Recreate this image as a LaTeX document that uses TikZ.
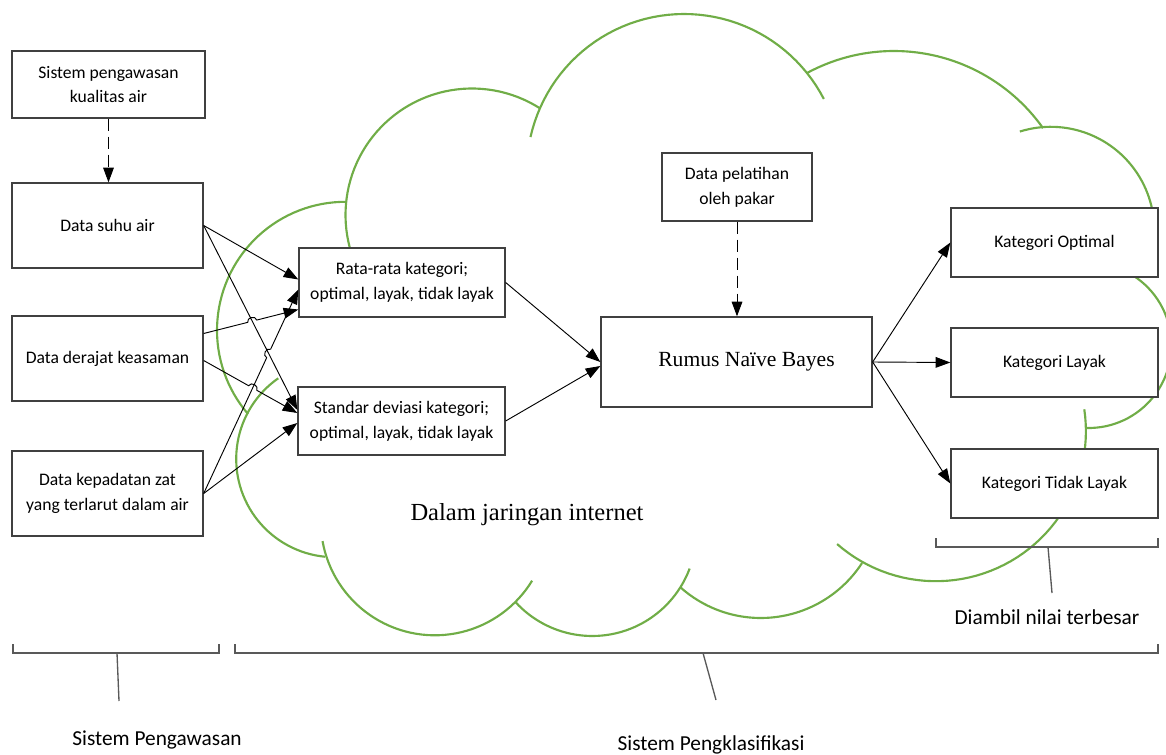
\documentclass[tikz,border=0pt]{standalone}
\usepackage{fontspec}
\setmainfont{Carlito}
\newfontfamily\serifface{Liberation Serif}
\usetikzlibrary{arrows.meta,calc}
\definecolor{cloudgreen}{RGB}{112,173,71}

\begin{document}
\begin{tikzpicture}[
    x=0.75pt,y=-0.75pt,
    box/.style={draw=black!75,line width=1pt,fill=white,inner sep=0pt,
      align=center,font=\fontsize{13.2}{18.5}\selectfont},
    sz/.style 2 args={minimum width=#1*0.75pt,minimum height=#2*0.75pt},
    conn/.style={-{Triangle[length=11pt,width=8pt]},line width=0.7pt},
    dashconn/.style={conn,dash pattern=on 9pt off 4.5pt},
    hop/.style={bend left=90,looseness=1.4},
    cloudline/.style={draw=cloudgreen,line width=1.6pt},
    bracket/.style={draw=black!65,line width=1pt},
    tag/.style={font=\fontsize{16}{19}\selectfont}
]
\useasboundingbox (0,0) rectangle (1166,755);

% cloud: one circular lobe each, centre/radius/from/to (overshoot included)
\foreach \cx/\cy/\r/\a/\b in {
    345.5/330.3/128.5/139.4/270.2,
    472/215/126.5/165/302.4,
    684.1/171.4/157.4/192.6/332.6,
    893.9/233.7/182.7/241.6/324.7,
    1050.8/230.3/103.5/252.6/370,
    1088.7/345.3/82.7/-70/91.2,
    935.9/431.2/150/-8.4/131.2,
    760.8/497.3/120.7/33/132,
    592.3/532/104/20.6/137.5,
    434.8/521.3/114/31.4/170,
    334.5/458.9/98.3/95.5/235.1}
  \draw[cloudline] plot[domain=\a:\b,samples=50,variable=\t]
    ({\cx+\r*cos(\t)},{\cy+\r*sin(\t)});

\node[font=\serifface\fontsize{18.4}{22}\selectfont] (net) at (527,515) {Dalam jaringan internet};

% monitoring side
\node[box,sz={193}{67}] (sistem) at (108.5,84.5) {Sistem pengawasan\\kualitas air};
\node[box,sz={191}{85}] (suhu) at (107.5,225.5) {Data suhu air};
\node[box,sz={191}{85}] (derajat) at (107.5,358.5) {Data derajat keasaman};
\node[box,sz={191}{85}] (padat) at (107.5,493.5) {Data kepadatan zat\\yang terlarut dalam air};

% classifier side
\node[box,sz={206}{69}] (rata) at (402,282.5) {Rata-rata kategori;\\optimal, layak, tidak layak};
\node[box,sz={207}{68}] (standar) at (401.5,421) {Standar deviasi kategori;\\optimal, layak, tidak layak};
\node[box,sz={150}{68}] (pakar) at (737,187) {Data pelatihan\\oleh pakar};
\node[box,sz={271}{90},font=\serifface\fontsize{16.2}{19}\selectfont] (bayes) at (736.5,362)
  {\hspace*{15pt}\raisebox{-2pt}{Rumus Na\"ive Bayes}};
\node[box,sz={207}{69}] (optimal) at (1054.5,242.5) {Kategori Optimal};
\node[box,sz={207}{69}] (layak) at (1054.5,362.5) {Kategori Layak};
\node[box,sz={207}{69}] (tidak) at (1054.5,483.5) {Kategori Tidak Layak};

\draw[dashconn] (sistem.south) -- (sistem.south |- suhu.north);
\draw[dashconn] (pakar.south) -- (pakar.south |- bayes.north);

% end points on the box sides
\coordinate (s0) at (suhu.east);
\coordinate (d1) at ($(derajat.east)+(0,-25)$);
\coordinate (d2) at ($(derajat.east)+(0,2)$);
\coordinate (k0) at (padat.east);
\coordinate (r1) at ($(rata.west)+(0,-3)$);
\coordinate (r2) at ($(rata.west)+(0,7)$);
\coordinate (r3) at ($(rata.west)+(0,27)$);
\coordinate (t1) at ($(standar.west)+(0,-11)$);
\coordinate (t2) at ($(standar.west)+(0,-8)$);
\coordinate (t3) at ($(standar.west)+(0,2)$);

% line jumps where the inputs cross
\coordinate (x1) at (intersection of s0--t1 and d1--r3);
\coordinate (x2) at (intersection of s0--t1 and k0--r2);
\coordinate (x3) at (intersection of k0--r2 and d2--t2);

\draw[conn] (s0) -- (r1);
\draw[conn] (s0) -- (t1);
\draw[conn] (d1) -- ($(x1)!3.5pt!(d1)$) to[hop] ($(x1)!3.5pt!(r3)$) -- (r3);
\draw[conn] (d2) -- ($(x3)!3.5pt!(d2)$) to[hop] ($(x3)!3.5pt!(t2)$) -- (t2);
\draw[conn] (k0) -- ($(x2)!3.5pt!(k0)$) to[hop] ($(x2)!3.5pt!(r2)$) -- (r2);
\draw[conn] (k0) -- (t3);

\draw[conn] (rata.east) -- (bayes.west);
\draw[conn] (standar.east) -- ($(bayes.west)+(0,4)$);
\draw[conn] (bayes.east) -- (optimal.west);
\draw[conn] (bayes.east) -- (layak.west);
\draw[conn] (bayes.east) -- (tidak.west);

% brackets underneath
\draw[bracket] (13,644) |- (219,653) -- (219,644);
\draw[bracket] (235,644) |- (1158,653) -- (1158,644);
\draw[bracket] (936,538) |- (1158,547) -- (1158,538);

\node[tag] (lblawas) at (157,740) {Sistem Pengawasan};
\node[tag] (lblklas) at (711,745) {Sistem Pengklasifikasi};
\node[tag] (lblambil) at (1047,617) {Diambil nilai terbesar};

\coordinate (m1) at (117,653);
\coordinate (m2) at (703,653);
\coordinate (m3) at (1048,547);
\draw[bracket] (m1) -- (119,701);
\draw[bracket] (m2) -- (716,700);
\draw[bracket] (m3) -- (1052,593);
\end{tikzpicture}
\end{document}
